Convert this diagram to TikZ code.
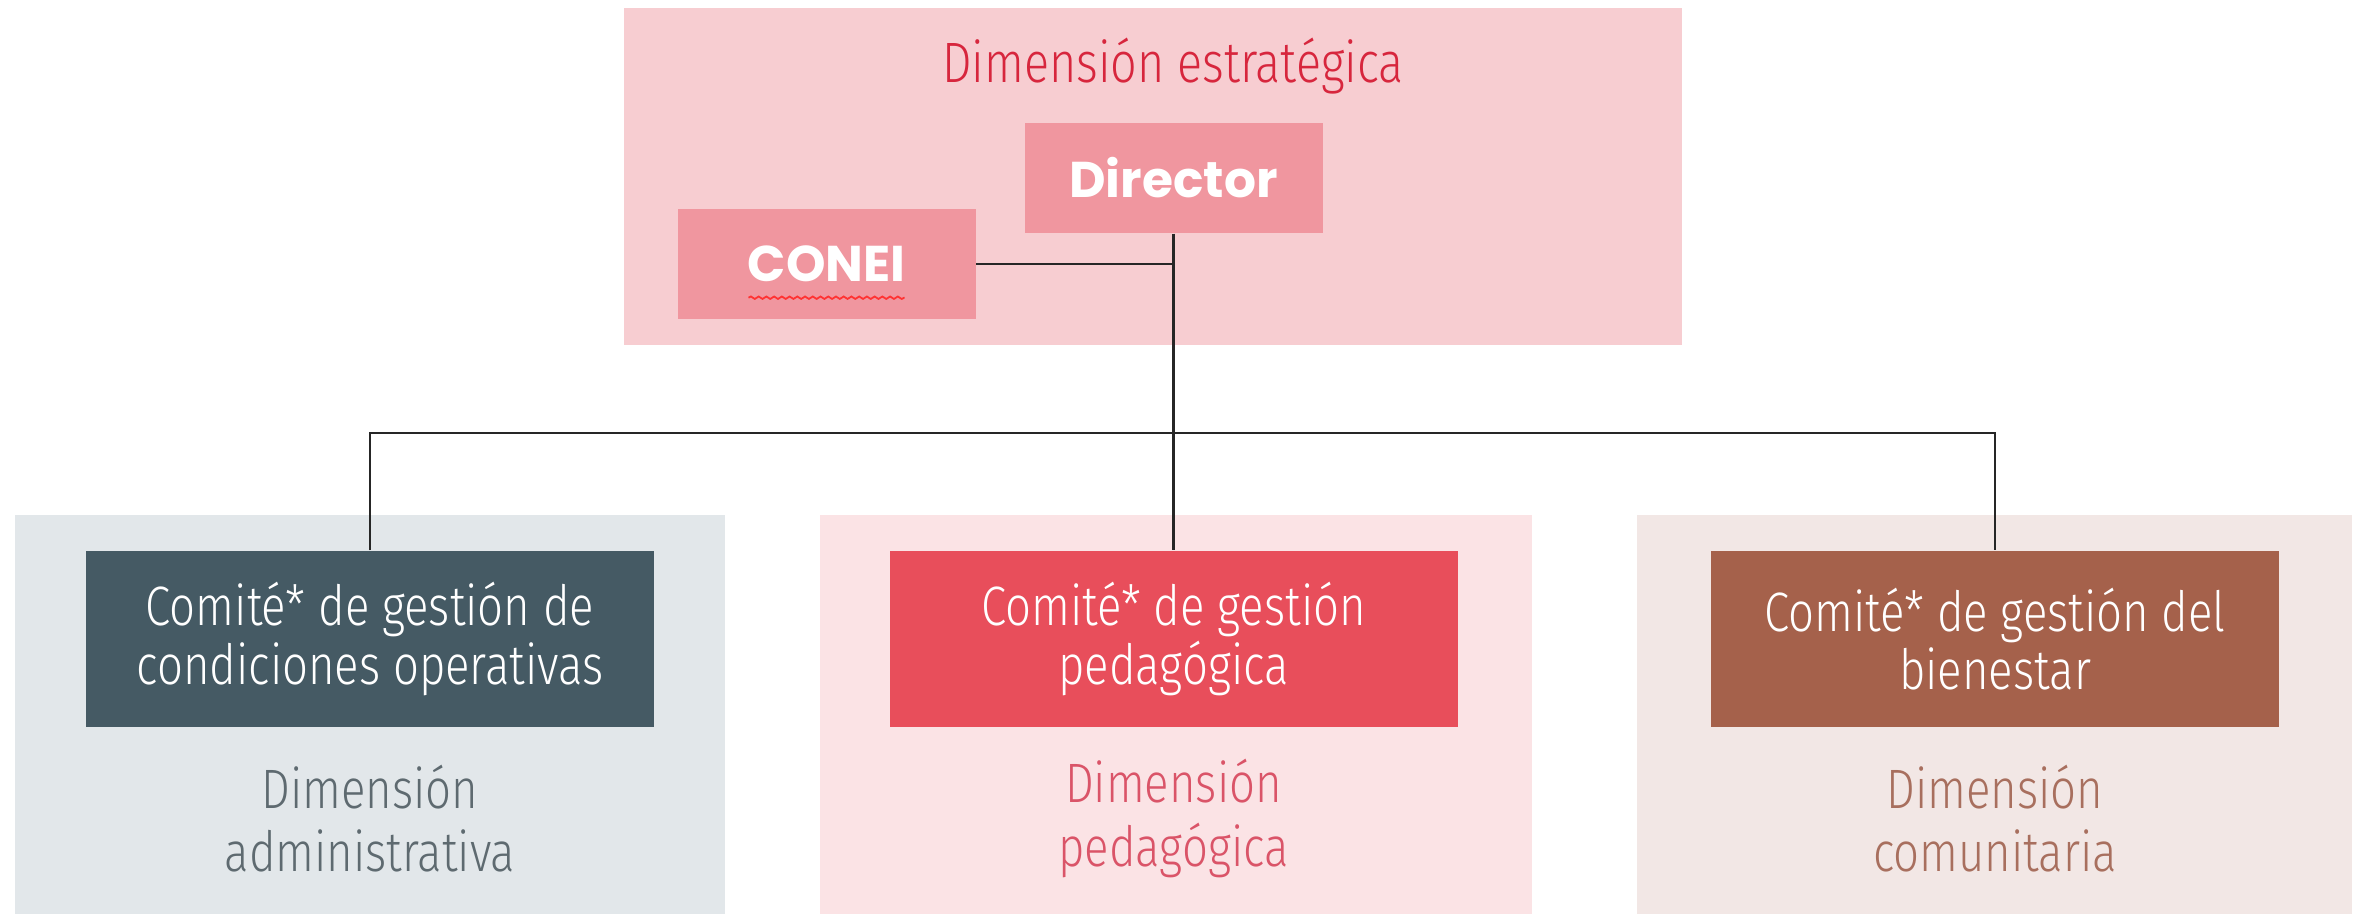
\documentclass[tikz,border=0pt]{standalone}
\usepackage{fontspec}
\setmainfont{Fira Sans}
\newfontfamily\narrowfont[FakeStretch=0.82]{Fira Sans Light}
\newfontfamily\roundfont{Poppins}
\usetikzlibrary{decorations.pathmorphing}
\definecolor{estrafondo}{HTML}{F7CDD1}
\definecolor{cabeza}{HTML}{F0969F}
\definecolor{estrarojo}{HTML}{D7263D}
\definecolor{admfondo}{HTML}{E2E7EA}
\definecolor{admoscuro}{HTML}{455A64}
\definecolor{admtexto}{HTML}{5E6A70}
\definecolor{pedfondo}{HTML}{FBE3E5}
\definecolor{pedoscuro}{HTML}{E84E5B}
\definecolor{pedtexto}{HTML}{DA5468}
\definecolor{comfondo}{HTML}{F2E7E5}
\definecolor{comoscuro}{HTML}{A5614B}
\definecolor{comtexto}{HTML}{A86F5E}

\begin{document}
\begin{tikzpicture}[
  jefe/.style={fill=cabeza, minimum width=2.98cm, minimum height=1.1cm,
    text=white, font=\roundfont\bfseries\fontsize{14.3}{16}\selectfont},
  comite/.style={minimum width=5.68cm, minimum height=1.76cm, inner sep=0pt,
    text=white, align=center, font=\narrowfont\fontsize{15.8}{16.6}\selectfont},
  dimtexto/.style={align=center, font=\narrowfont\fontsize{15.8}{18}\selectfont},
  linea/.style={draw=black!85, line width=0.6pt}
]
  \useasboundingbox (0,0) rectangle (23.59,9.14);
  % fondos de las dimensiones
  \fill[estrafondo] (6.24,5.69) rectangle (16.82,9.06);
  \fill[admfondo] (0.15,0) rectangle (7.25,3.99);
  \fill[pedfondo] (8.20,0) rectangle (15.32,3.99);
  \fill[comfondo] (16.37,0) rectangle (23.52,3.99);

  % dimension estrategica
  \node[text=estrarojo, font=\narrowfont\fontsize{16.2}{18}\selectfont] (estra) at (11.73,8.48) {Dimensión estratégica};
  \node[jefe] (dir) at (11.735,7.36) {Director};
  \node[jefe] (conei) at (8.265,6.50) {CONEI};
  \draw[red!80, line width=0.5pt, decorate, decoration={snake, amplitude=0.35pt, segment length=2.2pt}]
    ([xshift=-0.78cm,yshift=-0.16cm]conei.base) -- ([xshift=0.78cm,yshift=-0.16cm]conei.base);

  % comites
  \node[comite, fill=admoscuro] (adm) at (3.70,2.75) {Comité* de gestión de\\condiciones operativas};
  \node[comite, fill=pedoscuro] (ped) at (11.735,2.75) {Comité* de gestión\\pedagógica};
  \node[comite, fill=comoscuro] (com) at (19.95,2.75) {Comité* de gestión del\\bienestar};

  \node[dimtexto, text=admtexto] (dimadm) at (3.70,0.955) {Dimensión\\administrativa};
  \node[dimtexto, text=pedtexto] (dimped) at (11.735,0.955) {Dimensión\\pedagógica};
  \node[dimtexto, text=comtexto] (dimcom) at (19.95,0.955) {Dimensión\\comunitaria};

  % conectores
  \coordinate (bus) at (11.735,4.81);
  \draw[linea] (dir.south) -- (bus);
  \draw[linea] (conei.east) -- (conei.east -| dir.south);
  \draw[linea] (adm.north) |- (bus) -| (com.north);
  \draw[linea] (bus) -- (ped.north);
\end{tikzpicture}
\end{document}
